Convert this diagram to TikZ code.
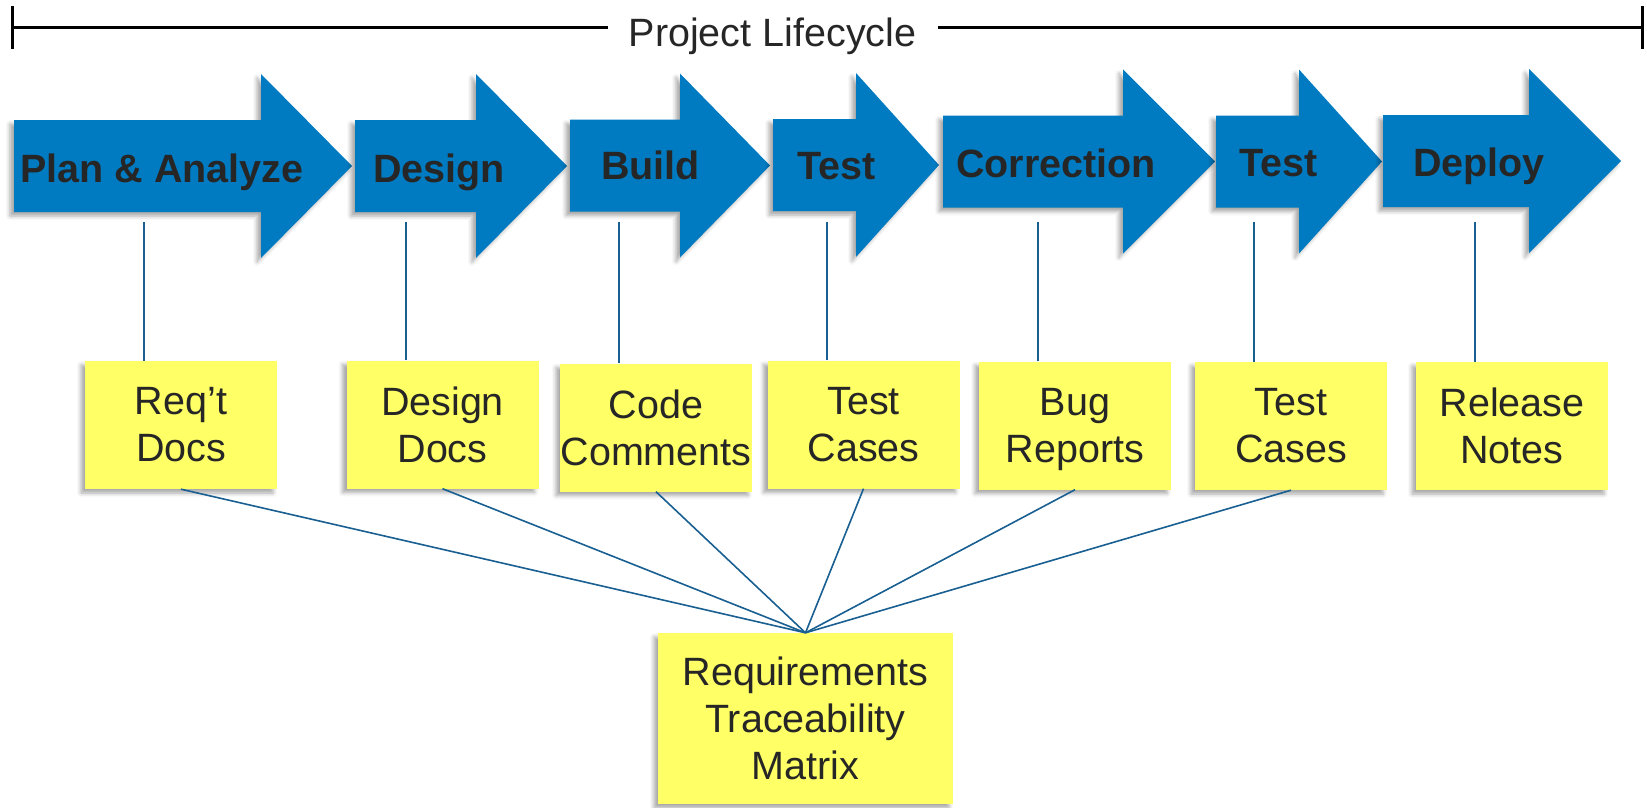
\documentclass[tikz,border=0pt]{standalone}
\usepackage{fontspec}
\setmainfont{Liberation Sans}
\usetikzlibrary{arrows.meta,shadows.blur}

\definecolor{stageblue}{RGB}{0,123,194}
\definecolor{noteyellow}{RGB}{255,255,102}
\definecolor{linkblue}{RGB}{25,95,145}
\definecolor{inkgray}{RGB}{38,38,38}

\tikzset{
  softshadow/.style={blur shadow={shadow xshift=-4pt, shadow yshift=-4pt,
      shadow blur radius=4pt, shadow opacity=35}},
  stagefill/.style={fill=stageblue, softshadow},
  stagetext/.style={anchor=base west, inner sep=0pt, text=inkgray,
      font=\fontsize{39.5}{47}\selectfont\bfseries},
  note/.style={fill=noteyellow, softshadow, inner sep=0pt, align=center,
      text=inkgray, font=\fontsize{39.5}{47}\selectfont,
      minimum width=192pt, minimum height=128pt},
  stem/.style={draw=linkblue, line width=2pt},
  fan/.style={draw=linkblue, line width=1.6pt}
}

\begin{document}
\begin{tikzpicture}[x=1pt, y=-1pt]
\useasboundingbox (0,0) rectangle (1647,808);

% Project lifecycle bar across the top
\node[anchor=base, inner xsep=21pt, text=inkgray,
  font=\fontsize{39.5}{47}\selectfont] (life) at (772.5,47) {Project Lifecycle};
\coordinate (lcstart) at (11,28);
\coordinate (lcend) at (1644,28);
\draw[line width=3pt, arrows={Bar[width=43pt]-}] (lcstart) -- (life.west |- lcstart);
\draw[line width=3pt, arrows={-Bar[width=43pt]}] (life.east |- lcend) -- (lcend);

% Stage arrows: left / head start / tip / middle
\foreach \l/\h/\t/\m in {14/261/352/166, 355/476/567/166, 570/680/770/165.5,
    773/856/939/165, 943/1123/1215/161.5, 1216/1299/1382/161.5, 1383/1529/1621/161}
  \fill[stagefill] (\l,\m-46) -- (\h,\m-46) -- (\h,\m-92) -- (\t,\m)
    -- (\h,\m+92) -- (\h,\m+46) -- (\l,\m+46) -- cycle;

% Stage names
\node[stagetext] (plan) at (20,182) {Plan \& Analyze};
\node[stagetext] (design) at (373,182) {Design};
\node[stagetext] (build) at (601,179) {Build};
\node[stagetext] (test) at (797,179) {Test};
\node[stagetext] (fix) at (956,177) {Correction};
\node[stagetext] (retest) at (1239,176) {Test};
\node[stagetext] (deploy) at (1413,176) {Deploy};

% Documents produced by each stage
\node[note] (req) at (181,425) {Req’t\\Docs};
\node[note] (designdoc) at (442.5,424.5) {Design\\Docs};
\node[note] (code) at (656,427.5) {Code\\Comments};
\node[note] (cases) at (863.5,424.5) {Test\\Cases};
\node[note] (bugs) at (1075,425.5) {Bug\\Re\smash{p}orts};
\node[note] (recases) at (1291,426) {Test\\Cases};
\node[note] (notes) at (1512,426) {Release\\Notes};

% Traceability matrix at the bottom
\node[note, minimum width=295pt, minimum height=171pt] (rtm) at (805.5,718.5)
  {Requirements\\Traceability\\Matrix};

% Stems from the stages down to the documents
\coordinate (stemtop) at (0,222);
\foreach \n in {req,designdoc,code,cases,bugs,recases,notes}
  \draw[stem] ([xshift=-37pt]\n.north) -- ([xshift=-37pt]\n.north |- stemtop);

% Documents feeding the matrix
\foreach \n in {req,designdoc,code,cases,bugs,recases}
  \draw[fan] (\n.south) -- (rtm.north);

\end{tikzpicture}
\end{document}
